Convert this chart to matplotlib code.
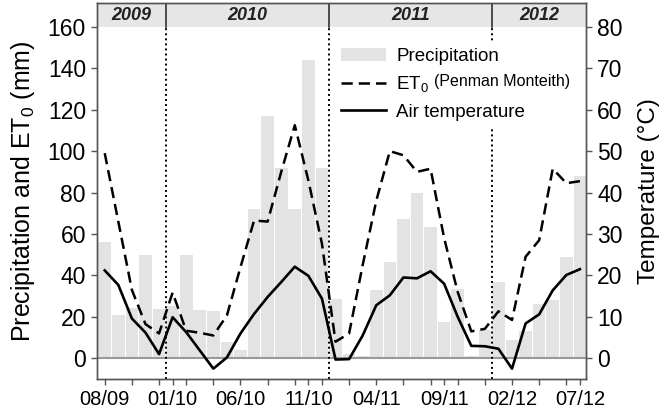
import matplotlib
matplotlib.use("Agg")
import matplotlib.pyplot as plt
from matplotlib.patches import Patch
from matplotlib.lines import Line2D

plt.rcParams["font.family"] = ["Liberation Sans", "DejaVu Sans"]
plt.rcParams["mathtext.fontset"] = "custom"
plt.rcParams["mathtext.rm"] = "Liberation Sans"
plt.rcParams["mathtext.it"] = "Liberation Sans:italic"
plt.rcParams["mathtext.bf"] = "Liberation Sans:bold"

# monthly series, 08/2009 ... 07/2012
precip = [56, 21, 24.5, 50, 24, 25, 50, 23.5, 23, 7.7, 4, 72, 117, 92, 72, 144,
          92, 28.5, 2, 1, 33, 46.6, 67, 80, 63.6, 17.7, 33.4, 1, 13.5, 36.6, 9,
          13.2, 26.3, 28, 49, 88]
et0 = [99, 66, 33, 16.5, 12, 31.7, 13.3, 12.3, 11, 20.7, 44, 66.5, 66, 90, 112.5,
       85.8, 55.3, 8, 12, 45, 76, 100, 98, 90, 91.5, 58, 32, 13, 14.2, 22.7, 18.5,
       49, 57, 91.5, 84.5, 85.5]
temp = [21.2, 17.7, 9.6, 6.2, 1.0, 9.9, 6.3, 1.9, -2.5, 0.2, 6.0, 10.7, 14.8, 18.4,
        22.1, 19.9, 14.4, -0.3, -0.2, 5.5, 12.8, 15.2, 19.5, 19.3, 21.0, 18.0,
        10.0, 3.0, 2.9, 2.3, -2.5, 8.4, 10.6, 16.4, 20.1, 21.5]
tick_labels = ["08/09", "01/10", "06/10", "11/10", "04/11", "09/11", "02/12", "07/12"]
years = ["2009", "2010", "2011", "2012"]
year_breaks = [4.5, 16.5, 28.5]

x = list(range(len(precip)))
W, H = 669, 411
dash = (0, (4.5, 2.4))

fig = plt.figure(figsize=(W / 100, H / 100), dpi=100)
ax = fig.add_axes([97 / W, 1 - 379 / H, (586 - 97) / W, (379 - 3) / H])
xmin, xmax = -0.57, 35.45
ytop = 171.5
ax.set_xlim(xmin, xmax)
ax.set_ylim(-10, ytop)

ax.bar(x, precip, width=0.93, color="#e3e3e3", zorder=1)
ax.axhline(0, color="#999999", lw=1.5, zorder=2)
ax.plot(x, et0, color="k", lw=1.8, ls=dash, zorder=3)

# header strip with years
ax.axhspan(160, ytop, color="#e6e6e6", zorder=0, lw=0)
edges = [xmin] + year_breaks + [xmax]
for i, yr in enumerate(years):
    ax.text((edges[i] + edges[i + 1]) / 2, 165.6, yr, ha="center", va="center",
            fontsize=13, fontweight="bold", style="italic", color="#222222")
for b in year_breaks:
    ax.plot([b, b], [160, ytop], color="#333333", lw=1.2, zorder=3)
    ax.plot([b, b], [-10, 160], color="k", lw=1.4, ls=(0, (1, 1.6)), zorder=2)

ax.set_xticks(range(0, 36, 5), tick_labels)
ax.set_xticks(range(0, 36, 2), minor=True)
ax.set_yticks(range(0, 161, 20))
ax.tick_params(axis="both", which="both", length=4, width=1, color="#555555",
               labelsize=16.5, pad=4)
ax.tick_params(axis="x", labelsize=14.5)
ax.set_ylabel("Precipitation and ET$_0$ (mm)", fontsize=18, labelpad=8)

ax2 = ax.twinx()
ax2.set_ylim(-5, ytop / 2)
ax2.plot(x, temp, color="k", lw=1.9, zorder=3)
ax2.set_yticks(range(0, 81, 10))
ax2.tick_params(axis="y", length=4, width=1, color="#555555", labelsize=16.5, pad=4)
ax2.set_ylabel("Temperature (°C)", fontsize=17.5, labelpad=11)

for a in (ax, ax2):
    for s in a.spines.values():
        s.set_color("#555555")
        s.set_linewidth(1)

handles = [Patch(facecolor="#e3e3e3", edgecolor="none"),
           Line2D([], [], color="k", lw=1.8, ls=dash),
           Line2D([], [], color="k", lw=1.9)]
leg = ax2.legend(handles, ["Precipitation", "ET$_0$", "Air temperature"],
                 loc="upper left", bbox_to_anchor=(326 / W, 1 - 33 / H),
                 bbox_transform=fig.transFigure, fontsize=13.5, frameon=True,
                 facecolor="white", edgecolor="none", framealpha=1,
                 handlelength=2.4, handletextpad=0.55, labelspacing=0.5,
                 borderpad=0.3, fancybox=False)

fig.canvas.draw()
bb = leg.get_texts()[1].get_window_extent()
fig.text((bb.x1 + 5) / W, (bb.y0 + 5) / H, "(Penman Monteith)", fontsize=11.5,
         ha="left", va="bottom", zorder=10)

fig.savefig("out.png", dpi=100)
